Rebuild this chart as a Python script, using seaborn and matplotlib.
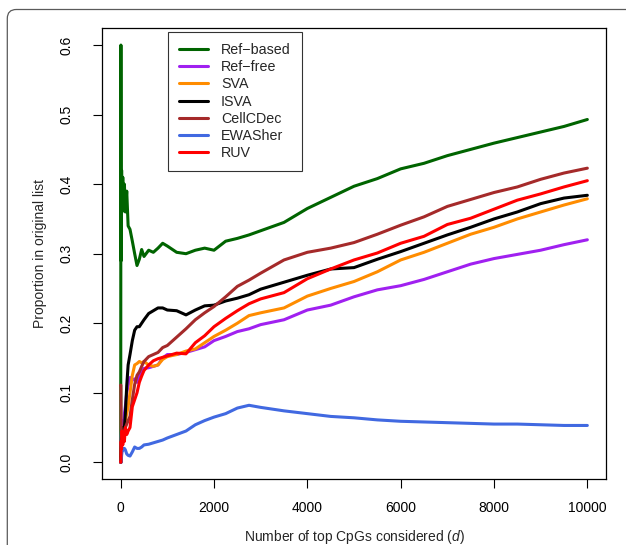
import matplotlib
matplotlib.use("Agg")
import matplotlib.pyplot as plt
import matplotlib.patches as mpatches
import matplotlib.transforms as mtransforms
import numpy as np
import pandas as pd
import seaborn as sns

# Number of top CpGs considered (d)
d = [1, 5, 10, 20, 30, 45, 60, 80, 100, 130,
     160, 200, 250, 300, 350, 400, 450, 500, 600, 700,
     800, 900, 1000, 1200, 1400, 1600, 1800, 2000, 2250, 2500,
     2750, 3000, 3500, 4000, 4500, 5000, 5500, 6000, 6500, 7000,
     7500, 8000, 8500, 9000, 9500, 10000]

ref_based = [0.0, 0.60, 0.29, 0.42, 0.36, 0.41, 0.37, 0.40, 0.36, 0.39,
             0.34, 0.335, 0.318, 0.300, 0.283, 0.292, 0.306, 0.296, 0.305, 0.302,
             0.308, 0.315, 0.311, 0.302, 0.300, 0.305, 0.308, 0.305, 0.318, 0.322,
             0.327, 0.333, 0.345, 0.365, 0.381, 0.397, 0.408, 0.422, 0.430, 0.441,
             0.450, 0.459, 0.467, 0.475, 0.483, 0.493]

ref_free = [0.0, 0.0, 0.03, 0.05, 0.04, 0.06, 0.05, 0.07, 0.08, 0.10,
            0.11, 0.122, 0.118, 0.120, 0.115, 0.125, 0.130, 0.135, 0.136, 0.138,
            0.140, 0.150, 0.155, 0.155, 0.158, 0.162, 0.166, 0.175, 0.181, 0.188,
            0.192, 0.198, 0.205, 0.219, 0.226, 0.238, 0.248, 0.254, 0.263, 0.274,
            0.285, 0.293, 0.299, 0.305, 0.313, 0.320]

sva = [0.0, 0.0, 0.02, 0.04, 0.03, 0.05, 0.04, 0.05, 0.06, 0.07,
       0.08, 0.10, 0.125, 0.140, 0.142, 0.145, 0.143, 0.145, 0.140, 0.138,
       0.140, 0.148, 0.152, 0.155, 0.160, 0.163, 0.172, 0.181, 0.190, 0.200,
       0.211, 0.215, 0.222, 0.239, 0.250, 0.260, 0.274, 0.291, 0.302, 0.315,
       0.328, 0.338, 0.350, 0.360, 0.370, 0.379]

isva = [0.0, 0.0, 0.02, 0.04, 0.05, 0.04, 0.05, 0.05, 0.07, 0.11,
        0.14, 0.155, 0.175, 0.190, 0.195, 0.195, 0.200, 0.205, 0.214, 0.218,
        0.222, 0.222, 0.219, 0.218, 0.212, 0.219, 0.225, 0.226, 0.232, 0.236,
        0.241, 0.249, 0.259, 0.269, 0.278, 0.280, 0.292, 0.303, 0.315, 0.327,
        0.338, 0.350, 0.360, 0.372, 0.380, 0.384]

cellcdec = [0.111, 0.111, 0.05, 0.037, 0.03, 0.035, 0.04, 0.045, 0.05, 0.055,
            0.06, 0.066, 0.09, 0.112, 0.125, 0.130, 0.138, 0.145, 0.152, 0.155,
            0.158, 0.165, 0.168, 0.180, 0.192, 0.205, 0.215, 0.224, 0.238, 0.253,
            0.262, 0.272, 0.291, 0.302, 0.308, 0.316, 0.328, 0.341, 0.353, 0.368,
            0.378, 0.388, 0.396, 0.407, 0.416, 0.423]

ewasher = [0.0, 0.0, 0.0, 0.01, 0.015, 0.02, 0.018, 0.02, 0.018, 0.012,
           0.010, 0.009, 0.015, 0.022, 0.020, 0.020, 0.022, 0.025, 0.026, 0.028,
           0.030, 0.032, 0.035, 0.040, 0.045, 0.054, 0.060, 0.065, 0.070, 0.078,
           0.082, 0.079, 0.074, 0.070, 0.066, 0.064, 0.061, 0.059, 0.058, 0.057,
           0.056, 0.055, 0.055, 0.054, 0.053, 0.053]

ruv = [0.0, 0.0, 0.03, 0.02, 0.045, 0.025, 0.04, 0.03, 0.05, 0.04,
       0.045, 0.05, 0.08, 0.09, 0.10, 0.115, 0.124, 0.132, 0.140, 0.146,
       0.149, 0.151, 0.153, 0.157, 0.156, 0.172, 0.182, 0.195, 0.207, 0.218,
       0.228, 0.235, 0.244, 0.264, 0.278, 0.291, 0.301, 0.315, 0.325, 0.342,
       0.351, 0.364, 0.377, 0.386, 0.396, 0.405]

methods = ["Ref\u2212based", "Ref\u2212free", "SVA", "ISVA", "CellCDec", "EWASher", "RUV"]
series = [ref_based, ref_free, sva, isva, cellcdec, ewasher, ruv]
colors = ["#006400", "#A020F0", "#FF8C00", "#000000", "#A52A2A", "#4169E1", "#FF0000"]

x_ticks = [0, 2000, 4000, 6000, 8000, 10000]
y_ticks = [0.0, 0.1, 0.2, 0.3, 0.4, 0.5, 0.6]

df = pd.concat(
    [pd.DataFrame({"d": d, "prop": vals, "method": name}) for name, vals in zip(methods, series)],
    ignore_index=True,
)

sns.set_style("white")
plt.rcParams["font.family"] = ["Liberation Sans", "DejaVu Sans"]
plt.rcParams["mathtext.fontset"] = "custom"
plt.rcParams["mathtext.it"] = "Liberation Sans:italic"
plt.rcParams["mathtext.rm"] = "Liberation Sans"

W, H = 626, 545
fig = plt.figure(figsize=(W / 100, H / 100), dpi=100)
fig.patch.set_facecolor("white")

# rounded panel frame
frame = mpatches.FancyBboxPatch(
    (7.3, -30), 700, H - 9.5 + 30,
    boxstyle="round,pad=0,rounding_size=9",
    transform=mtransforms.IdentityTransform(),
    fill=False, edgecolor="#5a5a5a", linewidth=0.9,
)
fig.add_artist(frame)

ax = fig.add_axes([102 / W, 66 / H, 504 / W, 450.6 / H])
sns.lineplot(
    data=df, x="d", y="prop", hue="method", hue_order=methods,
    palette=dict(zip(methods, colors)), estimator=None, sort=False,
    linewidth=2.2, ax=ax, legend=False,
)

ax.set_xlim(-400, 10400)
ax.set_ylim(-0.024, 0.624)
ax.set_xticks(x_ticks)
ax.set_xticklabels([str(t) for t in x_ticks])
ax.set_yticks(y_ticks)
ax.set_yticklabels([f"{t:.1f}" for t in y_ticks], rotation=90, va="center")

for s in ax.spines.values():
    s.set_visible(True)
    s.set_color("black")
    s.set_linewidth(0.9)

ax.tick_params(axis="both", direction="out", length=6.5, width=0.8, colors="black",
               labelsize=10, bottom=True, left=True)
ax.tick_params(axis="x", pad=9)
ax.tick_params(axis="y", pad=14)

ax.set_xlabel("Number of top CpGs considered ($d$)", fontsize=10)
ax.set_ylabel("Proportion in original list", fontsize=10)
ax.xaxis.label.set_va("center")
ax.yaxis.label.set_va("center")
ax.xaxis.set_label_coords(0.5, (479 - 537) / 450.6)
ax.yaxis.set_label_coords((40 - 102) / 504, 0.5)

handles = [plt.Line2D([], [], color=c, lw=2.2) for c in colors]
leg = ax.legend(
    handles, methods, loc="upper left",
    bbox_to_anchor=((168 - 102) / 504, (479 - 31.7) / 450.6),
    frameon=True, fancybox=False, fontsize=10.3, handlelength=2.0,
    handletextpad=0.9, labelspacing=0.22, borderpad=0.8, borderaxespad=0,
)
leg.get_frame().set_edgecolor("black")
leg.get_frame().set_linewidth(0.8)

fig.savefig("out.png", dpi=100)
